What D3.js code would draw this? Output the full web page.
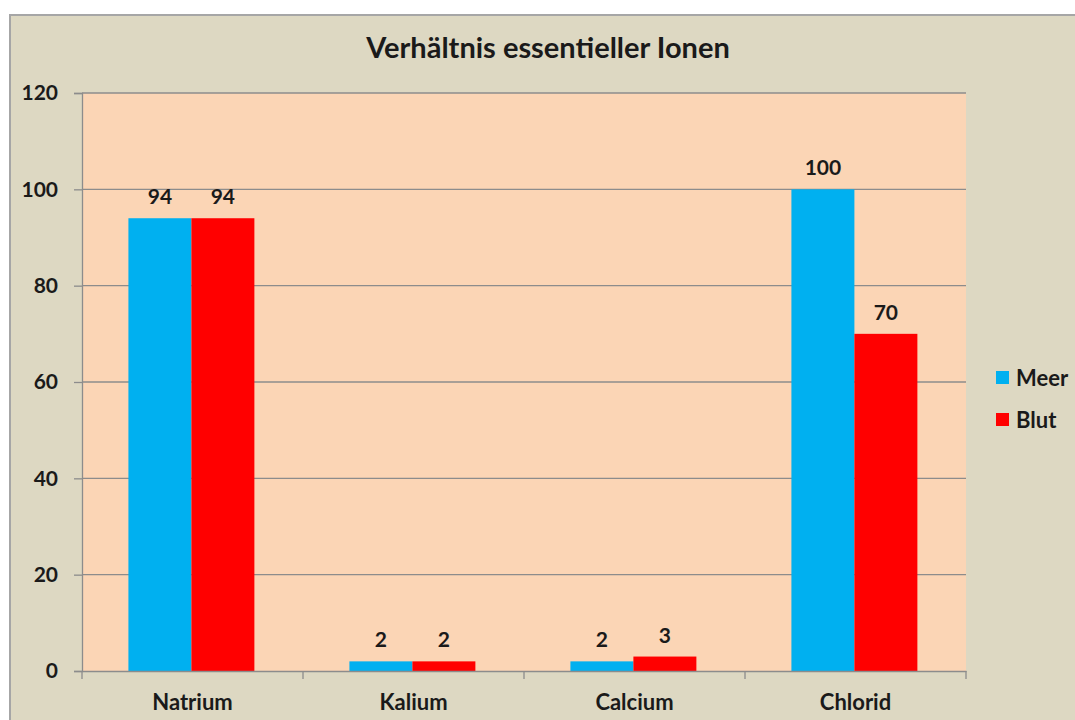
<!DOCTYPE html>
<html>
<head>
<meta charset="utf-8">
<script src="https://cdn.jsdelivr.net/npm/d3@7"></script>
<style>
  body { margin: 0; background: #fff; }
  text { font-family: Lato, "Open Sans", sans-serif; font-weight: bold; fill: #1a1a1a; }
</style>
</head>
<body>
<div class="chart"></div>
<script>
var categories = ['Natrium', 'Kalium', 'Calcium', 'Chlorid']
var seriesNames = ['Meer', 'Blut']
var meer = [94, 2, 2, 100]
var blut = [94, 2, 3, 70]
var yTicks = [0, 20, 40, 60, 80, 100, 120]
var colors = ['#00b0f0', '#ff0000']

var W = 1075, H = 720
var margin = {top: 93, right: 109, bottom: 49, left: 82}
var width = W - margin.left - margin.right
var height = H - margin.top - margin.bottom

var svg = d3.select('.chart').append('svg')
    .attr('width', W)
    .attr('height', H)

// outer chart frame
svg.append('rect')
    .attr('x', 10).attr('y', 15)
    .attr('width', W - 8).attr('height', H)
    .attr('fill', '#ddd8c2')
    .attr('stroke', '#a6a6a6')
    .attr('stroke-width', 2)

svg.append('text')
    .attr('x', 548).attr('y', 58)
    .attr('text-anchor', 'middle')
    .style('font-size', '29px')
    .text('Verhältnis essentieller Ionen')

var g = svg.append('g')
    .attr('transform', 'translate(' + margin.left + ',' + margin.top + ')')

var x0 = d3.scaleBand().domain(categories).range([0, width])
var x1 = d3.scaleBand().domain(seriesNames).range([x0.bandwidth() * 0.21, x0.bandwidth() * 0.78])
var y = d3.scaleLinear().domain([0, 120]).range([height, 0])

g.append('rect')
    .attr('width', width).attr('height', height)
    .attr('fill', '#fbd5b5')

// gridlines
g.selectAll('.grid').data(yTicks.slice(1)).enter().append('line')
    .attr('x1', 0).attr('x2', width)
    .attr('y1', function(d){ return y(d) }).attr('y2', function(d){ return y(d) })
    .attr('stroke', '#8c8c8c').attr('stroke-width', 1.3)

var rows = categories.map(function(c, i){
    return {cat: c, vals: [{s: 'Meer', v: meer[i]}, {s: 'Blut', v: blut[i]}]}
})

var groups = g.selectAll('.grp').data(rows).enter().append('g')
    .attr('transform', function(d){ return 'translate(' + x0(d.cat) + ',0)' })

groups.selectAll('rect').data(function(d){ return d.vals }).enter().append('rect')
    .attr('x', function(d){ return x1(d.s) })
    .attr('width', x1.bandwidth())
    .attr('y', function(d){ return y(d.v) })
    .attr('height', function(d){ return height - y(d.v) })
    .attr('fill', function(d, i){ return colors[i] })

groups.selectAll('.lbl').data(function(d){ return d.vals }).enter().append('text')
    .attr('x', function(d){ return x1(d.s) + x1.bandwidth() / 2 })
    .attr('y', function(d){ return y(d.v) - 14 })
    .attr('text-anchor', 'middle')
    .style('font-size', '21px')
    .text(function(d){ return d.v })

// axes
var yAxis = d3.axisLeft(y).tickValues(yTicks).tickSize(8).tickPadding(16)
var yAx = g.append('g').call(yAxis)
yAx.select('.domain').attr('stroke', '#8c8c8c').attr('stroke-width', 1.3)
yAx.selectAll('line').attr('stroke', '#8c8c8c').attr('stroke-width', 1.3)
yAx.selectAll('text').style('font-size', '21px').style('font-family', 'Lato, sans-serif').attr('fill', '#1a1a1a')

var xAxis = d3.axisBottom(x0).tickSize(0).tickPadding(23)
var xAx = g.append('g').attr('transform', 'translate(0,' + height + ')').call(xAxis)
xAx.select('.domain').attr('stroke', '#8c8c8c').attr('stroke-width', 1.3)
xAx.selectAll('text').style('font-size', '22px').style('font-family', 'Lato, sans-serif').attr('fill', '#1a1a1a')

var bounds = categories.map(function(c){ return x0(c) }).concat([width])
xAx.selectAll('.bnd').data(bounds).enter().append('line')
    .attr('x1', function(d){ return d }).attr('x2', function(d){ return d })
    .attr('y1', 0).attr('y2', 8)
    .attr('stroke', '#8c8c8c').attr('stroke-width', 1.3)

// legend
var leg = svg.append('g').attr('transform', 'translate(996,371)')
seriesNames.forEach(function(s, i){
    leg.append('rect').attr('x', 0).attr('y', i * 42)
        .attr('width', 13).attr('height', 13).attr('fill', colors[i])
    leg.append('text').attr('x', 20).attr('y', i * 42 + 15)
        .style('font-size', '22px').text(s)
})
</script>
</body>
</html>
